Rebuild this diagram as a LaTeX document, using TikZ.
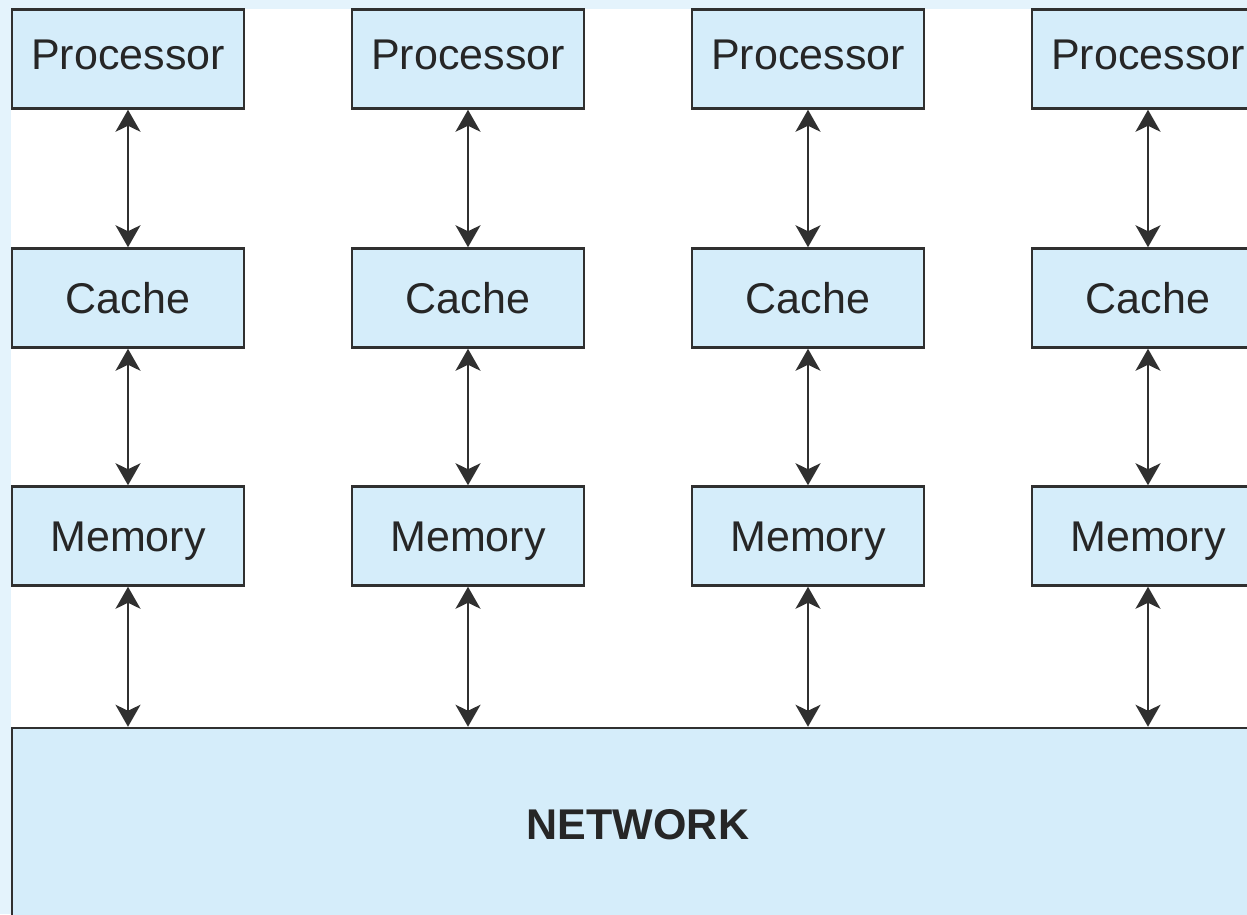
\documentclass[tikz,border=0pt]{standalone}
\usepackage{fontspec}
\setmainfont{Liberation Sans}
\usetikzlibrary{arrows.meta,positioning}
\definecolor{boxblue}{HTML}{D5EDFA}
\definecolor{rimblue}{HTML}{E4F3FC}
\definecolor{inkgray}{HTML}{303030}

\begin{document}
\begin{tikzpicture}[x=1pt,y=-1pt,>={Stealth[length=22pt,width=25pt,inset=6pt]},
                line width=2pt,draw=inkgray,
                unit/.style={draw=inkgray,line width=2.5pt,fill=boxblue,inner sep=0pt,
                  minimum width=232pt,minimum height=99pt,text height=30pt,text depth=0pt,
                  font=\fontsize{43}{50}\selectfont,text=black!85},
                toprow/.style={unit,text depth=10pt},
                link/.style={<->,draw=inkgray,line width=2pt}]
            \useasboundingbox (0,0) rectangle (1247,914);
            \clip (0,0) rectangle (1247,914);
            \fill[rimblue] (0,0) rectangle (1247,914);
            \fill[white] (11,9) rectangle (1247,914);
            \node [toprow] (p1) at (128,59)  {Processor};
            \node [toprow] (p2) [right=105.5pt of p1] {Processor};
            \node [toprow] (p3) [right=105.5pt of p2] {Processor};
            \node [toprow] (p4) [right=105.5pt of p3] {Processor};
            \node [unit]   (c1) [below=137.5pt of p1] {Cache};
            \node [unit]   (c2) [below=137.5pt of p2] {Cache};
            \node [unit]   (c3) [below=137.5pt of p3] {Cache};
            \node [unit]   (c4) [below=137.5pt of p4] {Cache};
            \node [unit]   (m1) [below=136.5pt of c1] {Memory};
            \node [unit]   (m2) [below=136.5pt of c2] {Memory};
            \node [unit]   (m3) [below=136.5pt of c3] {Memory};
            \node [unit]   (m4) [below=136.5pt of c4] {Memory};
            \node [unit,minimum width=1252pt,minimum height=192pt,font=\fontsize{43}{50}\selectfont\bfseries]
                           (net) at (638,824) {NETWORK};
            \path[link] (p1) edge (c1)  (c1) edge (m1)  (m1) edge (m1 |- net.north)
                        (p2) edge (c2)  (c2) edge (m2)  (m2) edge (m2 |- net.north)
                        (p3) edge (c3)  (c3) edge (m3)  (m3) edge (m3 |- net.north)
                        (p4) edge (c4)  (c4) edge (m4)  (m4) edge (m4 |- net.north);
        \end{tikzpicture}
\end{document}
